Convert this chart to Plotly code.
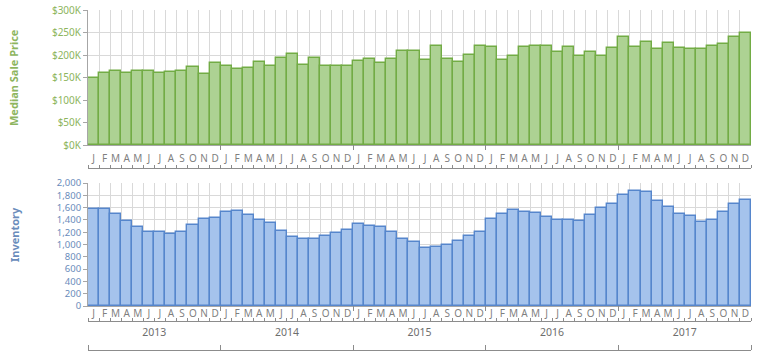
import plotly.graph_objects as go

months = ["J", "F", "M", "A", "M", "J", "J", "A", "S", "O", "N", "D"]
years = ["2013", "2014", "2015", "2016", "2017"]

price_k = [150, 160, 165, 160, 165, 165, 160, 162, 165, 174, 157, 182,
           176, 170, 171, 184, 175, 194, 203, 177, 194, 175, 175, 176,
           186, 192, 182, 192, 210, 210, 190, 220, 192, 185, 199, 219,
           218, 190, 197, 218, 219, 220, 206, 218, 198, 207, 197, 216,
           240, 218, 230, 214, 226, 215, 214, 213, 220, 224, 240, 250]

inventory = [1580, 1580, 1490, 1388, 1290, 1203, 1200, 1170, 1200, 1322, 1409, 1425,
             1535, 1550, 1474, 1393, 1350, 1214, 1117, 1095, 1084, 1133, 1187, 1236,
             1333, 1306, 1279, 1200, 1097, 1035, 943, 965, 992, 1051, 1144, 1198,
             1415, 1501, 1566, 1528, 1512, 1453, 1398, 1404, 1377, 1485, 1599, 1658,
             1800, 1875, 1848, 1713, 1615, 1501, 1463, 1360, 1404, 1523, 1658, 1718]

price_ticks = [0, 50, 100, 150, 200, 250, 300]
inv_ticks = [0, 200, 400, 600, 800, 1000, 1200, 1400, 1600, 1800, 2000]

n = len(price_k)
xs = list(range(n))
month_text = months * len(years)
bounds = [i - 0.5 for i in range(n + 1)]
year_bounds = [i * 12 - 0.5 for i in range(len(years) + 1)]
year_centers = [i * 12 + 5.5 for i in range(len(years))]

FONT = "Noto Sans"
GRID = "#D9D9D9"
LINE = "#A6A6A6"
TICKLINE = "#8C8C8C"
MONTHC = "#7F7F7F"
GREEN_T = "#8DB55E"
BLUE_T = "#6A8CBB"

fig = go.Figure()
fig.add_trace(go.Bar(x=xs, y=[v * 1000 for v in price_k], xaxis="x", yaxis="y",
                     width=1, marker=dict(color="#ADD293", line=dict(color="#72AC45", width=1.4)),
                     showlegend=False, hoverinfo="skip"))
fig.add_trace(go.Bar(x=xs, y=inventory, xaxis="x2", yaxis="y2",
                     width=1, marker=dict(color="#A5C3EC", line=dict(color="#5686CC", width=1.4)),
                     showlegend=False, hoverinfo="skip"))

# empty helper traces: thin decorative subplots carrying the tick lines / year axis
for k in range(3, 8):
    fig.add_trace(go.Scatter(x=xs, y=[None] * n, xaxis="x%d" % k, yaxis="y%d" % k, mode="lines",
                             showlegend=False, hoverinfo="skip"))

xr = [-0.5, n - 0.5]

def main_x(domain_anchor, standoff):
    return dict(range=xr, anchor=domain_anchor, tickmode="array", tickvals=xs, ticktext=month_text,
                ticks="", showline=True, linecolor=LINE, linewidth=1, showgrid=False, zeroline=False,
                automargin=False,
                tickfont=dict(family=FONT, size=10, color=MONTHC), ticklabelstandoff=standoff,
                minor=dict(tickvals=bounds, showgrid=True, gridcolor=GRID, gridwidth=1, ticks=""))

def deco_x(anchor, side, vals, ticks, length, line, labels=None, centers=None, standoff=0, color=TICKLINE):
    d = dict(range=xr, anchor=anchor, side=side, showline=line, linecolor=color, linewidth=1,
             showgrid=False, zeroline=False, automargin=False, fixedrange=True)
    if labels is None:
        d.update(tickmode="array", tickvals=vals, ticks=ticks, ticklen=length, tickcolor=color,
                 showticklabels=False)
    else:
        d.update(tickmode="array", tickvals=centers, ticktext=labels, ticks="",
                 tickfont=dict(family=FONT, size=10.5, color="#6E6E6E"), ticklabelstandoff=standoff,
                 minor=dict(tickvals=vals, ticks=ticks, ticklen=length, tickcolor=color))
    return d

H = 363.0
def py(px):
    return 1 - px / H

def deco_y(top_px, bottom_px):
    return dict(domain=[py(bottom_px), py(top_px)], visible=False, fixedrange=True,
                range=[0, 1], automargin=False)

fig.update_layout(
    width=764, height=363, margin=dict(l=88, r=13, t=0, b=0, autoexpand=False),
    paper_bgcolor="white", plot_bgcolor="rgba(0,0,0,0)", bargap=0,
    xaxis=main_x("y", 4),
    xaxis2=main_x("y2", -2),
    # month tick line under the top month labels
    xaxis3=deco_x("y3", "top", bounds, "outside", 3, True),
    yaxis3=deco_y(169, 174),
    # month tick line under the bottom month labels
    xaxis4=deco_x("y4", "top", bounds, "outside", 3, True),
    yaxis4=deco_y(322, 327),
    # year labels with a line beneath them
    xaxis5=deco_x("y5", "top", year_bounds, "outside", 5, True,
                  labels=years, centers=year_centers, standoff=10),
    yaxis5=deco_y(351, 356),
    # year-boundary ticks hanging below the main axis lines
    xaxis6=deco_x("y6", "top", year_bounds, "inside", 5, False),
    yaxis6=deco_y(145, 151),
    xaxis7=deco_x("y7", "top", year_bounds, "inside", 5, False),
    yaxis7=deco_y(306, 312),
    yaxis=dict(domain=[py(145), py(10)], range=[0, 300000], anchor="x", automargin=False,
               tickmode="array", tickvals=[v * 1000 for v in price_ticks],
               ticktext=["$%dK" % v for v in price_ticks],
               ticks="outside", ticklen=4, tickcolor=LINE, showline=True, linecolor=LINE,
               gridcolor=GRID, zeroline=False,
               tickfont=dict(family=FONT, size=10, color=GREEN_T)),
    yaxis2=dict(domain=[py(306), py(183)], range=[0, 2000], anchor="x2", automargin=False,
                tickmode="array", tickvals=inv_ticks, tickformat=",",
                ticks="outside", ticklen=4, tickcolor=LINE, showline=True, linecolor=LINE,
                gridcolor=GRID, zeroline=False,
                tickfont=dict(family=FONT, size=9.5, color=BLUE_T)),
    annotations=[
        dict(text="<b>Median Sale Price</b>", xref="paper", yref="paper",
             x=(14 - 88) / 663.0, y=py(78), xanchor="center", yanchor="middle",
             textangle=-90, showarrow=False,
             font=dict(family=FONT, size=11, color=GREEN_T)),
        dict(text="<b>Inventory</b>", xref="paper", yref="paper",
             x=(14 - 88) / 663.0, y=py(235), xanchor="center", yanchor="middle",
             textangle=-90, showarrow=False,
             font=dict(family=FONT, size=11, color=BLUE_T)),
    ],
)

fig.write_html("out.html")
